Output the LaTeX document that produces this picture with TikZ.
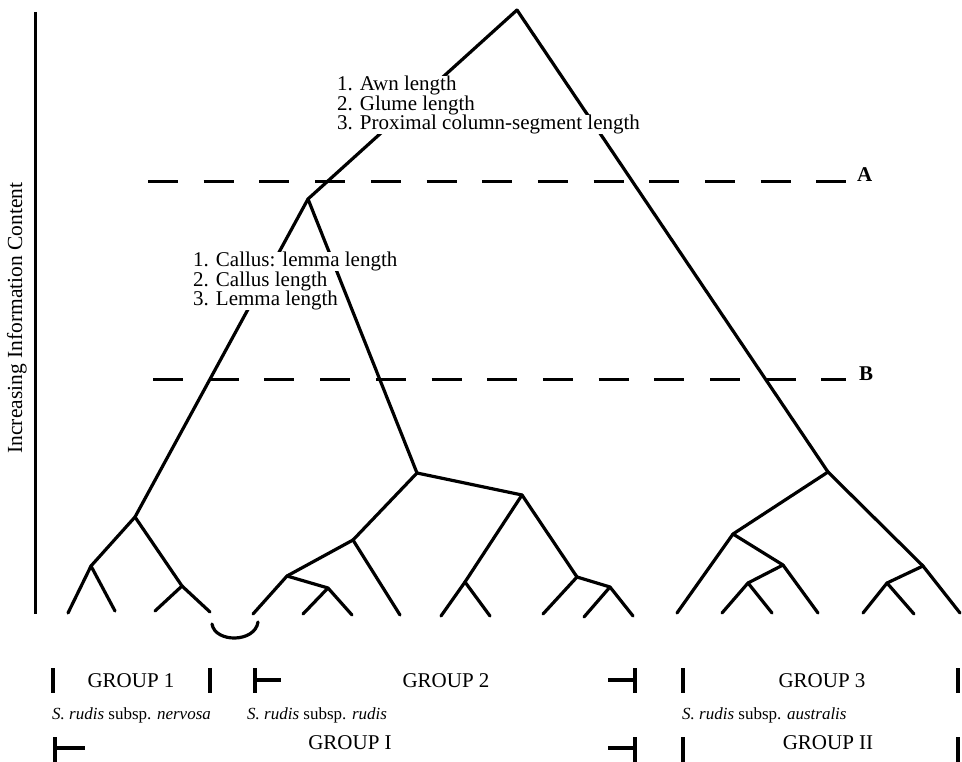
\documentclass[tikz,border=0pt]{standalone}
\usepackage{fontspec}
\setmainfont{Liberation Serif}
\begin{document}
\begin{tikzpicture}[x=1pt,y=-1pt,
  br/.style={line width=3.2pt,line cap=round,line join=round},
  dsh/.style={line width=3pt,dash pattern=on 30pt off 25.7pt},
  bar/.style={line width=3.5pt},
  lbl/.style={font=\fontsize{21}{19.5}\selectfont,fill=white,inner xsep=1pt,inner ysep=0pt,minimum height=19.5pt,anchor=west},
  grp/.style={font=\fontsize{21}{22}\selectfont,anchor=base,inner sep=0pt},
  subl/.style={font=\fontsize{17}{19}\selectfont,anchor=base west,inner sep=0pt},
  ablbl/.style={font=\fontsize{21}{22}\selectfont\bfseries,anchor=base west,inner sep=0pt}
]
\useasboundingbox (0,0) rectangle (962,762);
% axis
\coordinate (axt) at (35,12);
\coordinate (axb) at (35,614);
\draw[line width=3pt] (axt) -- (axb);
\node[rotate=90,font=\fontsize{21.5}{23}\selectfont,inner sep=0pt] (axl) at (17,318) {Increasing Information Content};
% dashed levels
\coordinate (Al) at (148,182); \coordinate (Ar) at (846,182);
\coordinate (Bl) at (153,379); \coordinate (Br) at (846,379);
\draw[dsh] (Al) -- (Ar);
\draw[dsh] (Bl) -- (Br);
\node[ablbl] (A) at (857,182) {A};
\node[ablbl] (B) at (859,380) {B};
% tree nodes
\coordinate (root) at (517,10);
\coordinate (c) at (308,199);
\coordinate (r) at (828,472);
\coordinate (l1) at (135,517);
\coordinate (g2) at (417,473);
\coordinate (a) at (91,566);
\coordinate (b) at (182,586);
\coordinate (a1) at (68,613); \coordinate (a2) at (115,611);
\coordinate (b1) at (155,611); \coordinate (b2) at (210,612);
\coordinate (d) at (353,540);
\coordinate (e) at (522,495);
\coordinate (f) at (287,576);
\coordinate (d2) at (400,615);
\coordinate (f1) at (253,614);
\coordinate (g) at (328,588);
\coordinate (g1) at (303,614); \coordinate (g3) at (352,615);
\coordinate (h) at (465,582);
\coordinate (i) at (577,577);
\coordinate (h1) at (441,616); \coordinate (h2) at (490,616);
\coordinate (i1) at (543,614);
\coordinate (j) at (610,587);
\coordinate (j1) at (584,617); \coordinate (j2) at (633,616);
\coordinate (k) at (733,534);
\coordinate (m) at (923,566);
\coordinate (k1) at (677,613);
\coordinate (n) at (783,565);
\coordinate (o) at (748,583);
\coordinate (n1) at (818,613);
\coordinate (o1) at (722,613); \coordinate (o2) at (772,613);
\coordinate (p) at (887,583);
\coordinate (m1) at (960,613);
\coordinate (p1) at (863,613); \coordinate (p2) at (914,614);
% edges
\draw[br] (root) -- (c);
\draw[br] (root) -- (r);
\draw[br] (c) -- (l1);
\draw[br] (c) -- (g2);
\draw[br] (l1) -- (a);
\draw[br] (l1) -- (b);
\draw[br] (a) -- (a1); \draw[br] (a) -- (a2);
\draw[br] (b) -- (b1); \draw[br] (b) -- (b2);
\draw[br] (g2) -- (d); \draw[br] (g2) -- (e);
\draw[br] (d) -- (f); \draw[br] (d) -- (d2);
\draw[br] (f) -- (f1); \draw[br] (f) -- (g);
\draw[br] (g) -- (g1); \draw[br] (g) -- (g3);
\draw[br] (e) -- (h); \draw[br] (e) -- (i);
\draw[br] (h) -- (h1); \draw[br] (h) -- (h2);
\draw[br] (i) -- (i1); \draw[br] (i) -- (j);
\draw[br] (j) -- (j1); \draw[br] (j) -- (j2);
\draw[br] (r) -- (k); \draw[br] (r) -- (m);
\draw[br] (k) -- (k1); \draw[br] (k) -- (n);
\draw[br] (n) -- (o); \draw[br] (n) -- (n1);
\draw[br] (o) -- (o1); \draw[br] (o) -- (o2);
\draw[br] (m) -- (p); \draw[br] (m) -- (m1);
\draw[br] (p) -- (p1); \draw[br] (p) -- (p2);
% link arc
\coordinate (arcL) at (212,624); \coordinate (arcR) at (258,622);
\draw[br] (arcL) .. controls (215,643) and (255,643) .. (arcR);
% character labels
\node[lbl] (t1) at (336,85.5) {1. Awn length};
\node[lbl] (t2) at (336,105) {2. Glume length};
\node[lbl] (t3) at (336,124.5) {3. Proximal column-segment length};
\node[lbl] (u1) at (192,261.5) {1. Callus: lemma length};
\node[lbl] (u2) at (192,281) {2. Callus length};
\node[lbl] (u3) at (192,300.5) {3. Lemma length};
% group bars row 1
\draw[bar] (53,668) -- (53,693);
\draw[bar] (210,668) -- (210,693);
\draw[bar] (255,668) -- (255,693);
\draw[bar] (255,680) -- (281,680);
\draw[bar] (635,668) -- (635,693);
\draw[bar] (608,680) -- (635,680);
\draw[bar] (683,668) -- (683,693);
\draw[bar] (958,668) -- (958,693);
\node[grp] (G1) at (131,687) {GROUP 1};
\node[grp] (G2) at (446,687) {GROUP 2};
\node[grp] (G3) at (822,687) {GROUP 3};
% subspecies row
\node[subl] (s1) at (52,719) {\textit{S. rudis} subsp. \textit{nervosa}};
\node[subl] (s2) at (247,719) {\textit{S. rudis} subsp. \textit{rudis}};
\node[subl] (s3) at (682,719) {\textit{S. rudis} subsp. \textit{australis}};
% group bars row 3
\draw[bar] (55,737) -- (55,762);
\draw[bar] (55,748) -- (85,748);
\draw[bar] (635,737) -- (635,762);
\draw[bar] (608,748) -- (635,748);
\draw[bar] (683,737) -- (683,762);
\draw[bar] (958,737) -- (958,762);
\node[grp] (GI) at (350,749) {GROUP I};
\node[grp] (GII) at (828,749) {GROUP II};
\end{tikzpicture}
\end{document}
